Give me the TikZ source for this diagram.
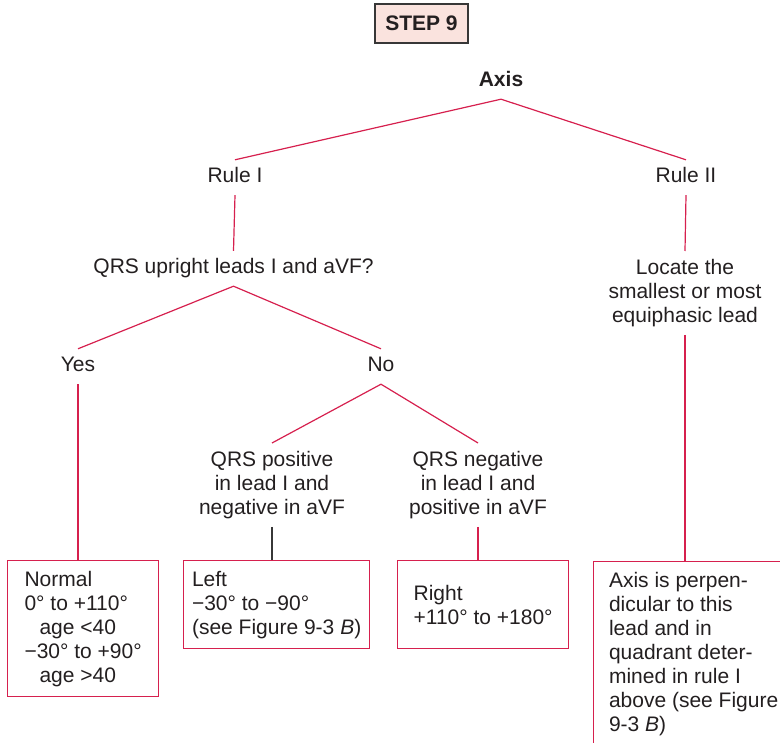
\documentclass[tikz,border=0pt]{standalone}
\usepackage{fontspec}
\setmainfont{Liberation Sans}
\definecolor{lnred}{RGB}{214,32,78}
\definecolor{txt}{RGB}{35,31,32}
\definecolor{stepfill}{RGB}{250,227,222}
\definecolor{stepline}{RGB}{55,55,55}
\begin{document}
\begin{tikzpicture}[x=1pt,y=-1pt,
  every node/.style={text=txt,font=\fontsize{21}{24}\selectfont},
  lbl/.style={inner xsep=2pt,inner ysep=8pt,text height=15pt,text depth=4pt,anchor=base},
  multi/.style={inner xsep=2pt,inner ysep=8pt,align=center,anchor=north},
  res/.style={draw=lnred,line width=1.3pt,align=left,anchor=north west,inner sep=0pt},
  conn/.style={draw=lnred,line width=1.2pt},
  connd/.style={draw=stepline,line width=1.2pt},
  stepbox/.style={draw=stepline,fill=stepfill,line width=1.3pt,minimum width=93pt,minimum height=39pt,inner sep=0pt,font=\fontsize{21}{24}\selectfont\bfseries}
]
\useasboundingbox (0,0) rectangle (780,743);
\clip (0,0) rectangle (780,743);

\node[stepbox] (step) at (421.5,23.5) {STEP 9};

\node[lbl,font=\fontsize{21}{24}\selectfont\bfseries] (axis) at (501,87) {Axis};
\node[lbl] (rulei) at (235,183) {Rule I};
\node[lbl] (ruleii) at (686,183) {Rule II};
\node[lbl] (qrs) at (233.5,274) {QRS upright leads I and aVF?};
\node[lbl] (yes) at (78,372) {Yes};
\node[lbl] (no) at (381,372) {No};
\node[multi] (pos) at (272,443) {QRS positive\\in lead I and\\negative in aVF};
\node[multi] (neg) at (478,443) {QRS negative\\in lead I and\\positive in aVF};
\node[multi] (locate) at (685,251) {Locate the\\smallest or most\\equiphasic lead};

\node[res,minimum width=151pt,minimum height=136pt] (normal) at (7,560)
  {Normal\\0° to +110°\\\hspace*{15pt}age <40\\−30° to +90°\\\hspace*{15pt}age >40};
\node[res,minimum width=186pt,minimum height=88pt] (left) at (183,560)
  {Left\\−30° to −90°\\(see Figure 9-3 \textit{B})};
\node[res,minimum width=171pt,minimum height=88pt] (right) at (397,560)
  {Right\\+110° to +180°};
\node[res,minimum width=200pt,minimum height=185pt] (big) at (593,561)
  {Axis is perpen-\\dicular to this\\lead and in\\quadrant deter-\\mined in rule I\\above (see Figure\\9-3 \textit{B})};

\draw[conn] (rulei.north) -- (axis.south) -- (ruleii.north);
\draw[conn] (rulei.south) -- (qrs.north);
\draw[conn] (yes.north) -- (qrs.south) -- (no.north);
\draw[conn] (yes.south) -- (yes.south |- normal.north);
\draw[conn] (pos.north) -- (no.south) -- (neg.north);
\draw[connd] (pos.south) -- (pos.south |- left.north);
\draw[conn] (neg.south) -- (neg.south |- right.north);
\draw[conn] (ruleii.south) -- (locate.north);
\draw[conn] (locate.south) -- (locate.south |- big.north);
\end{tikzpicture}
\end{document}
